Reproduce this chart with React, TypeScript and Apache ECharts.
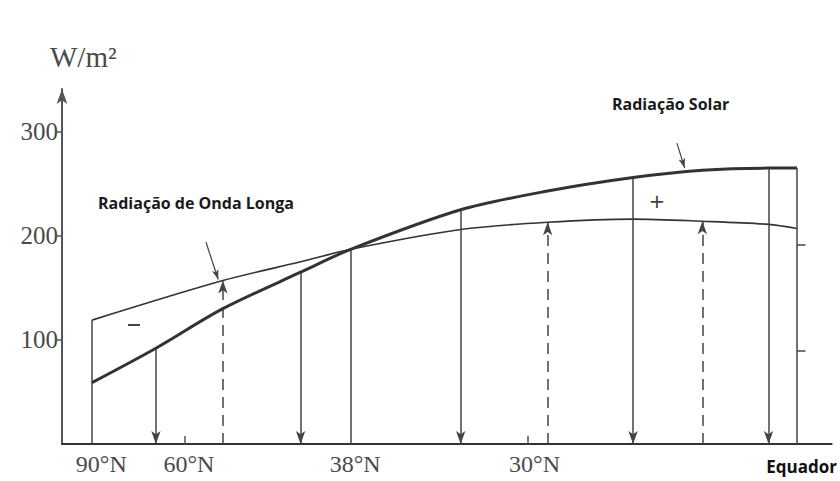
import React, { useEffect, useRef } from "react";
import * as echarts from "echarts";

// x positions are distances along the latitude axis (0 = vertical axis, 100 = end of the axis line)
const xLabelPositions = [5.1, 16.5, 38.1, 61.4, 96.1];
const xLabels = ["90°N", "60°N", "38°N", "30°N", "Equador"];
const xTickPositions = [16.0, 60.5];
const yTickValues = [100, 200, 300];

// Radiação Solar (absorbed solar radiation), W/m²
const solarX = [3.9, 12.2, 20.9, 31.0, 37.5, 51.8, 63.1, 74.2, 83.2, 91.8, 95.5];
const solarY = [59, 92, 130, 165, 187, 225, 243, 256, 263, 265, 265];

// Radiação de Onda Longa (outgoing long-wave radiation), W/m²
const longX = [3.9, 20.9, 31.0, 37.5, 51.8, 63.1, 74.2, 83.2, 91.8, 95.5];
const longY = [119, 157, 175, 187, 206, 213, 216, 214, 211, 207];

// solid arrows pointing down from the solar curve
const downArrowX = [12.2, 31.0, 51.8, 74.2, 91.8];
const downArrowTop = [92, 165, 225, 256, 265];
// dashed arrows pointing up to the long-wave curve
const upArrowX = [20.9, 63.1, 83.2];
const upArrowTop = [157, 213, 214];
// plain vertical lines (90°N, 38°N, Equador)
const plainLineX = [3.9, 37.5, 95.5];
const plainLineTop = [119, 187, 265];
// small ticks on the right boundary
const rightTickValues = [191, 90];
// label pointer arrows [x0, y0, x1, y1]
const longPointer = [18.7, 194, 20.3, 158];
const solarPointer = [79.9, 289, 80.9, 265];

const INK = "#333";
const SERIF = "'Liberation Serif', 'DejaVu Serif', serif";
const SANS = "'Open Sans', 'Noto Sans', sans-serif";

export default function App() {
  const ref = useRef<HTMLDivElement>(null);

  useEffect(() => {
    const chart = echarts.init(ref.current!, null, { renderer: "svg" });

    const downLines = downArrowX.map((x, i) => [
      { coord: [x, downArrowTop[i]], symbol: "none" },
      { coord: [x, 0], symbol: "arrow" },
    ]);
    const upLines = upArrowX.map((x, i) => [
      {
        coord: [x, 0],
        symbol: "none",
        lineStyle: { type: [11, 7], color: "#444", width: 1.5 },
      },
      { coord: [x, upArrowTop[i]], symbol: "arrow" },
    ]);
    const plainLines = plainLineX.map((x, i) => [
      { coord: [x, 0], symbol: "none" },
      { coord: [x, plainLineTop[i]], symbol: "none" },
    ]);
    const rightTicks = rightTickValues.map((v) => [
      { coord: [plainLineX[2], v], symbol: "none" },
      { coord: [plainLineX[2] + 1.1, v], symbol: "none" },
    ]);
    const pointers = [longPointer, solarPointer].map((p) => [
      { coord: [p[0], p[1]], symbol: "none", lineStyle: { width: 1.2, color: "#444" } },
      { coord: [p[2], p[3]], symbol: "arrow", symbolSize: [5, 10] },
    ]);

    const option: any = {
      animation: false,
      backgroundColor: "#fff",
      grid: { left: 62, right: 8, top: 89, bottom: 37, containLabel: false },
      xAxis: {
        type: "value",
        min: 0,
        max: 100,
        splitLine: { show: false },
        axisLine: { show: true, onZero: false, lineStyle: { color: INK, width: 2 } },
        axisTick: {
          show: true,
          inside: true,
          length: 8,
          customValues: xTickPositions,
          lineStyle: { color: "#555", width: 1.5 },
        },
        axisLabel: {
          show: true,
          customValues: xLabelPositions,
          margin: 8,
          fontFamily: SERIF,
          fontSize: 24,
          color: "#4a4a4a",
          formatter: (v: number) => {
            const i = xLabelPositions.findIndex((p) => Math.abs(p - v) < 0.01);
            if (i < 0) return "";
            const t = xLabels[i];
            return t === "Equador" ? `{eq|${t}}` : t;
          },
          rich: {
            eq: {
              fontFamily: SANS,
              fontWeight: "bold",
              fontSize: 17,
              color: "#111",
              padding: [6, 0, 0, 0],
            },
          },
        },
      },
      yAxis: {
        type: "value",
        min: 0,
        max: 341,
        splitLine: { show: false },
        axisLine: {
          show: true,
          lineStyle: { color: "#555", width: 2 },
          symbol: ["none", "arrow"],
          symbolSize: [8, 15],
        },
        axisTick: {
          show: true,
          length: 5,
          customValues: yTickValues,
          lineStyle: { color: "#555", width: 1.5 },
        },
        axisLabel: {
          show: true,
          customValues: yTickValues,
          margin: 4,
          fontFamily: SERIF,
          fontSize: 25,
          color: "#4a4a4a",
        },
      },
      series: [
        {
          name: "Radiação Solar",
          type: "line",
          data: solarX.map((x, i) => [x, solarY[i]]),
          smooth: 0.3,
          showSymbol: false,
          symbol: "none",
          lineStyle: { color: INK, width: 3 },
          z: 5,
        },
        {
          name: "Radiação de Onda Longa",
          type: "line",
          data: longX.map((x, i) => [x, longY[i]]),
          smooth: 0.3,
          showSymbol: false,
          symbol: "none",
          lineStyle: { color: INK, width: 1.6 },
          z: 4,
        },
        {
          name: "setas",
          type: "line",
          data: [],
          markLine: {
            silent: true,
            animation: false,
            symbol: ["none", "arrow"],
            symbolSize: [7, 13],
            label: { show: false },
            emphasis: { disabled: true },
            lineStyle: { color: "#444", width: 1.5, type: "solid" },
            itemStyle: { color: "#444" },
            data: [...downLines, ...upLines, ...plainLines, ...rightTicks, ...pointers],
          },
        },
      ],
      graphic: [
        {
          type: "text",
          left: 50,
          top: 42,
          style: { text: "W/m²", font: `29px ${SERIF}`, fill: "#4a4a4a" },
        },
        {
          type: "text",
          x: 98,
          y: 203,
          style: {
            text: "Radiação de Onda Longa",
            font: `bold 16px ${SANS}`,
            fill: "#1a1a1a",
            verticalAlign: "middle",
          },
        },
        {
          type: "text",
          x: 612,
          y: 104,
          style: {
            text: "Radiação Solar",
            font: `bold 16px ${SANS}`,
            fill: "#1a1a1a",
            verticalAlign: "middle",
          },
        },
        {
          type: "rect",
          shape: { x: 128, y: 324, width: 12, height: 2 },
          style: { fill: "#444" },
        },
        {
          type: "text",
          x: 657,
          y: 201,
          style: {
            text: "+",
            font: `26px ${SANS}`,
            fill: "#444",
            align: "center",
            verticalAlign: "middle",
          },
        },
      ],
    };

    chart.setOption(option);
    return () => chart.dispose();
  }, []);

  return (
    <div
      ref={ref}
      style={{ position: "fixed", left: 0, top: 0, width: 840, height: 481, background: "#fff" }}
    />
  );
}
